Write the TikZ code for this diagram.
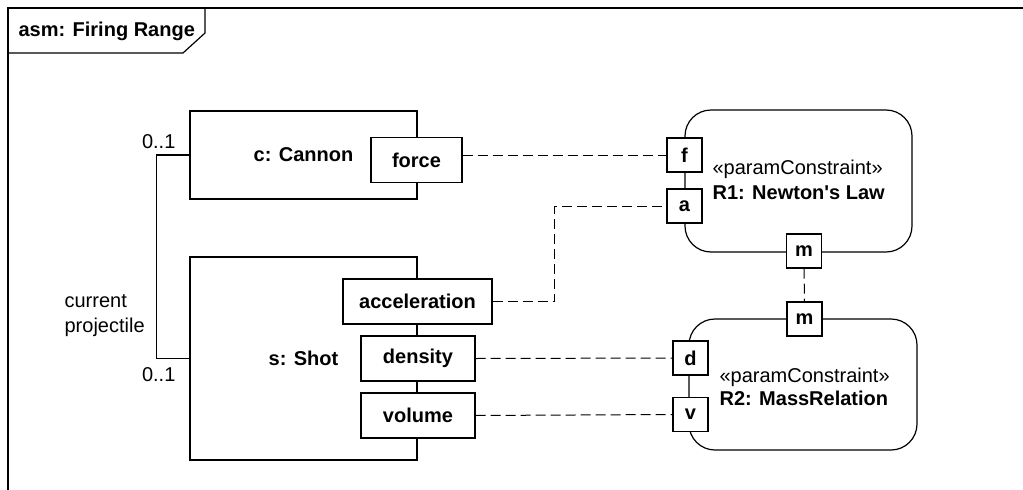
\documentclass[tikz,border=0pt]{standalone}
\usepackage{fontspec}
\setmainfont{Liberation Sans}[Ligatures=TeXOff]
\begin{document}
\begin{tikzpicture}[x=1pt,y=1pt,line width=1.2pt,
  every node/.style={font=\fontsize{20}{25}\selectfont, inner sep=0pt},
  bold/.style={font=\fontsize{20}{25}\selectfont\bfseries},
  part/.style={draw, bold, minimum width=227pt},
  portbox/.style={draw, fill=white, bold, minimum height=45pt},
  pinbox/.style={draw, fill=white, bold, minimum width=35pt, minimum height=34pt},
  cblock/.style={draw, rounded corners=26pt},
  conn/.style={dash pattern=on 10pt off 5pt, line width=1pt}]
\useasboundingbox (0,0) rectangle (1023,-490);
% frame
\draw[line width=2pt] (1023,-8) -- (8,-8) -- (8,-490);
\draw (8,-8) -- (205,-8) -- (205,-33) -- (183,-53) -- (8,-53);
\node[anchor=west, bold] (title) at (18,-31) {asm: Firing Range};
% parts
\node[part, minimum height=88pt] (cannon) at (303.5,-155) {c: Cannon};
\node[part, minimum height=203pt] (shot) at (303.5,-358.5) {s: Shot};
\node[portbox, minimum width=91pt] (force) at (416.5,-160) {force};
\node[portbox, minimum width=149pt] (acc) at (417.5,-301.5) {acceleration};
\node[portbox, minimum width=114pt] (dens) at (418,-358.5) {density};
\node[portbox, minimum width=114pt] (vol) at (418,-415.5) {volume};
% constraint blocks
\node[cblock, minimum width=227pt, minimum height=142pt] (r1) at (798.5,-181) {};
\node[cblock, minimum width=228pt, minimum height=131pt] (r2) at (803,-384.5) {};
\node[anchor=base west] (r1s) at (712,-174) {«paramConstraint»};
\node[anchor=base west, bold] (r1n) at (712,-199) {R1: Newton's Law};
\node[anchor=base west] (r2s) at (719,-382) {«paramConstraint»};
\node[anchor=base west, bold] (r2n) at (719,-405) {R2: MassRelation};
\node[pinbox] (f) at (684.5,-155) {f};
\node[pinbox] (a) at (684.5,-206) {a};
\node[pinbox] (m1) at (804,-251) {m};
\node[pinbox] (m2) at (804.5,-319) {m};
\node[pinbox] (d) at (690.5,-358) {d};
\node[pinbox] (v) at (690.5,-414.5) {v};
% association
\draw (cannon.west) -- ++(-33,0) coordinate (ca) |- (shot.west);
\node[anchor=east] (mu1) at (176,-142) {0..1};
\node[anchor=east] (mu2) at (176,-375) {0..1};
\node[anchor=west, align=left] (role) at (64,-315.5) {current\\projectile};
% binding connectors
\draw[conn] (force.east |- f.west) -- (f.west);
\draw[conn] (acc.east) -- ++(62,0) coordinate (ab) |- (a.west);
\draw[conn] (m1.south) -- (m2.north);
\draw[conn] (dens.east) -- (d.west);
\draw[conn] (vol.east) -- (v.west);
\end{tikzpicture}
\end{document}
